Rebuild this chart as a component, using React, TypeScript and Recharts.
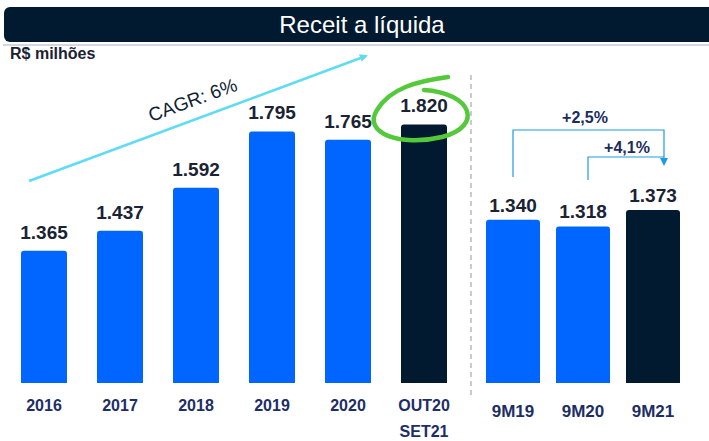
import { BarChart, Bar, XAxis, YAxis, LabelList, Cell } from "recharts";

const YEARS = ["2016", "2017", "2018", "2019", "2020", "OUT20 SET21"];
const YEAR_VALUES = [1365, 1437, 1592, 1795, 1765, 1820];

const PERIODS = ["9M19", "9M20", "9M21"];
const PERIOD_VALUES = [1340, 1318, 1373];

const BLUE = "#0066ff";
const DARK = "#011a2f";
const FONT = "'Liberation Sans', Arial, sans-serif";

const fmt = (v: number) => (v / 1000).toFixed(3);

const yearData = YEARS.map((name, i) => ({ name, value: YEAR_VALUES[i] }));
const periodData = PERIODS.map((name, i) => ({ name, value: PERIOD_VALUES[i] }));

function YearTick({ x, y, payload }: any) {
  const lines = String(payload.value).split(" ");
  return (
    <text x={x} y={y} textAnchor="middle" fill="#1d2e66" fontSize={16} fontWeight="bold" fontFamily={FONT}>
      {lines.map((l, i) => (
        <tspan key={l} x={x} dy={i === 0 ? 28 : 26}>
          {l}
        </tspan>
      ))}
    </text>
  );
}

function PeriodTick({ x, y, payload }: any) {
  return (
    <text x={x} y={y + 34} textAnchor="middle" fill="#1d2e66" fontSize={17} fontWeight="bold" fontFamily={FONT}>
      {payload.value}
    </text>
  );
}

function Overlay() {
  return (
    <svg width={709} height={441} style={{ position: "absolute", left: 0, top: 0, pointerEvents: "none" }}>
      <defs>
        <marker id="cyanHead" markerWidth="8" markerHeight="8" refX="6" refY="4" orient="auto" markerUnits="userSpaceOnUse">
          <path d="M0,0 L8,4 L0,8 z" fill="#5fdcf4" />
        </marker>
        <marker id="blueHead" markerWidth="8" markerHeight="8" refX="4" refY="4" orient="auto" markerUnits="userSpaceOnUse">
          <path d="M0,0 L8,4 L0,8 z" fill="#1d9be0" />
        </marker>
      </defs>
      <rect x={3} y={44} width={712} height={2} fill="#d4d8dc" />
      <rect x={4} y={7} width={712} height={35} rx={6} fill={DARK} />
      <text x={362} y={33} textAnchor="middle" fill="#ffffff" fontSize={24} fontFamily={FONT}>
        Receit a líquida
      </text>
      <text x={10} y={59} fill="#1a2233" fontSize={16} fontWeight="bold" fontFamily={FONT}>
        R$ milhões
      </text>

      <line x1={29} y1={181} x2={366} y2={56} stroke="#5fdcf4" strokeWidth={2.5} markerEnd="url(#cyanHead)" />
      <text
        x={195}
        y={106}
        textAnchor="middle"
        fill="#0f1f35"
        fontSize={19}
        fontFamily={FONT}
        transform="rotate(-20 195 106)"
      >
        CAGR: 6%
      </text>

      <path
        d="M424 90 C 472 93, 484 126, 442 137 C 400 147, 362 133, 377 110 C 390 88, 418 81, 448 77"
        fill="none"
        stroke="#55c93c"
        strokeWidth={4.5}
        strokeLinecap="round"
      />

      <line x1={471} y1={75} x2={471} y2={398} stroke="#a8a8a8" strokeWidth={1.2} strokeDasharray="5 4" />

      <path d="M513 177 V130 H664 V162" fill="none" stroke="#1d9be0" strokeWidth={1.2} markerEnd="url(#blueHead)" />
      <path d="M588 180 V157 H664" fill="none" stroke="#1d9be0" strokeWidth={1.2} />
      <text x={585} y={123} textAnchor="middle" fill="#1b2c5e" fontSize={16} fontWeight="bold" fontFamily={FONT}>
        +2,5%
      </text>
      <text x={627} y={153} textAnchor="middle" fill="#1b2c5e" fontSize={16} fontWeight="bold" fontFamily={FONT}>
        +4,1%
      </text>
    </svg>
  );
}

export default function App() {
  return (
    <div style={{ position: "relative", width: 709, height: 441, overflow: "hidden", background: "#fff" }}>
      <style>{"body{margin:0}"}</style>
      <div style={{ position: "absolute", left: 0, top: 0 }}>
        <BarChart width={470} height={441} data={yearData} margin={{ top: 60, right: 8, left: 6, bottom: 0 }}>
          <XAxis dataKey="name" axisLine={false} tickLine={false} tickSize={0} tickMargin={0} height={58} interval={0} tick={<YearTick />} />
          <YAxis hide domain={[889, 2052]} allowDataOverflow />
          <Bar dataKey="value" barSize={46} radius={[3, 3, 0, 0]} isAnimationActive={false}>
            {yearData.map((d, i) => (
              <Cell key={d.name} fill={i === yearData.length - 1 ? DARK : BLUE} />
            ))}
            <LabelList dataKey="value" position="top" offset={12} formatter={fmt} fill="#1a2333" fontSize={19} fontWeight="bold" fontFamily={FONT} />
          </Bar>
        </BarChart>
      </div>
      <div style={{ position: "absolute", left: 470, top: 0 }}>
        <BarChart width={239} height={441} data={periodData} margin={{ top: 60, right: 21, left: 8, bottom: 0 }}>
          <XAxis dataKey="name" axisLine={false} tickLine={false} tickSize={0} tickMargin={0} height={58} interval={0} tick={<PeriodTick />} />
          <YAxis hide domain={[789, 1880]} allowDataOverflow />
          <Bar dataKey="value" barSize={54} radius={[3, 3, 0, 0]} isAnimationActive={false}>
            {periodData.map((d, i) => (
              <Cell key={d.name} fill={i === periodData.length - 1 ? DARK : BLUE} />
            ))}
            <LabelList dataKey="value" position="top" offset={8} formatter={fmt} fill="#1a2333" fontSize={19} fontWeight="bold" fontFamily={FONT} />
          </Bar>
        </BarChart>
      </div>
      <Overlay />
    </div>
  );
}
